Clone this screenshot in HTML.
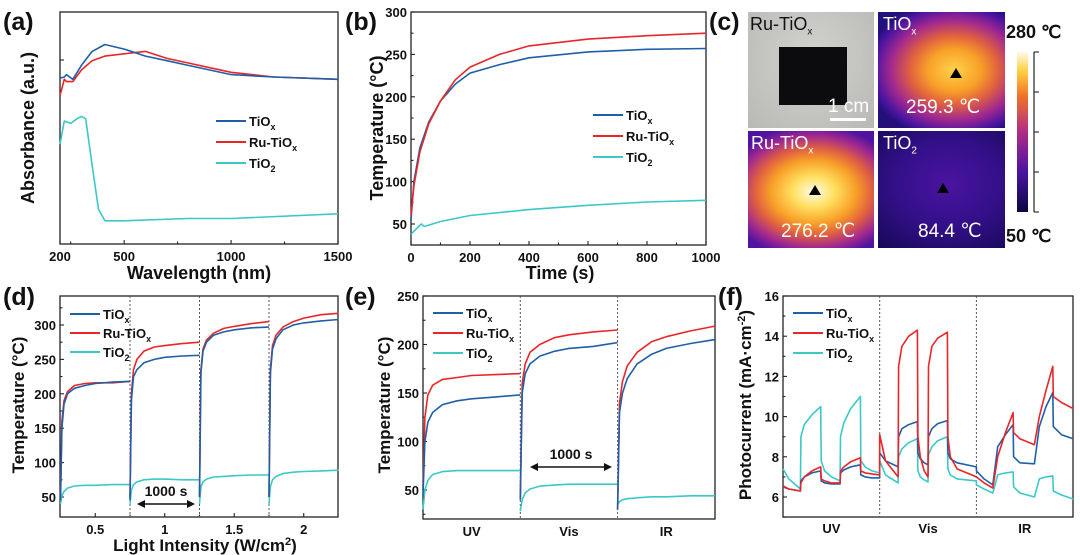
<!DOCTYPE html>
<html><head><meta charset="utf-8">
<style>
body{margin:0;background:#fff;width:1080px;height:555px;overflow:hidden;font-family:"Liberation Sans",Arial,sans-serif}
svg{position:absolute;left:0;top:0}
text{font-family:"Liberation Sans",Arial,sans-serif;font-weight:bold;fill:#111}
.cell{position:absolute;overflow:hidden}
.cl{position:absolute;color:#fff;font-size:18px;font-family:"Liberation Sans",sans-serif}
</style></head>
<body>
<div class="cell" style="left:748px;top:12px;width:126px;height:116px;background:radial-gradient(ellipse at 50% 40%,#d2d2ce,#b8b8b4)">
 <div style="position:absolute;left:31px;top:35px;width:68px;height:58px;background:#0c0c0e"></div>
 <div class="cl" style="left:2px;top:2px;color:#111">Ru-TiO<sub style="font-size:10px">x</sub></div>
 <div class="cl" style="left:80px;top:84px;font-size:19px">1 cm</div>
 <div style="position:absolute;left:82px;top:106px;width:36px;height:3px;background:#fff"></div>
</div>
<div class="cell" style="left:878px;top:12px;width:127px;height:116px;background:radial-gradient(ellipse 70% 60% at 60% 50%,#ffd24a 0%,#f8a028 30%,#e06040 50%,#a02890 72%,#4a14a0 90%,#24107a 100%)">
 <div class="cl" style="left:5px;top:2px">TiO<sub style="font-size:10px">x</sub></div>
 <div class="cl" style="left:28px;top:84px;font-size:19px">259.3 ℃</div>
 <div style="position:absolute;left:72px;top:56px;width:0;height:0;border-left:6px solid transparent;border-right:6px solid transparent;border-bottom:10px solid #000"></div>
</div>
<div class="cell" style="left:748px;top:131px;width:126px;height:117px;background:radial-gradient(ellipse 75% 60% at 52% 52%,#fffbe8 0%,#ffe060 22%,#f8a028 45%,#e06040 62%,#a02890 80%,#5014a0 95%)">
 <div class="cl" style="left:3px;top:2px">Ru-TiO<sub style="font-size:10px">x</sub></div>
 <div class="cl" style="left:33px;top:89px;font-size:19px">276.2 ℃</div>
 <div style="position:absolute;left:61px;top:54px;width:0;height:0;border-left:6px solid transparent;border-right:6px solid transparent;border-bottom:10px solid #000"></div>
</div>
<div class="cell" style="left:878px;top:131px;width:127px;height:117px;background:radial-gradient(ellipse 80% 70% at 55% 45%,#4a14a0 0%,#34108a 50%,#180a5a 100%)">
 <div class="cl" style="left:5px;top:2px">TiO<sub style="font-size:10px">2</sub></div>
 <div class="cl" style="left:40px;top:89px;font-size:19px">84.4 ℃</div>
 <div style="position:absolute;left:59px;top:52px;width:0;height:0;border-left:6px solid transparent;border-right:6px solid transparent;border-bottom:10px solid #000"></div>
</div>
<div style="position:absolute;left:1017px;top:52px;width:11px;height:160px;background:linear-gradient(to top,#0a0840,#4a14a0 25%,#b02c88 50%,#f07028 72%,#ffd040 88%,#fffbe8)"></div>

<svg id="fig" width="1080" height="555" xmlns="http://www.w3.org/2000/svg"></svg>

<script>
// ---------- DATA ----------
const aWl = [200,220,230,260,300,350,410,500,600,700,800,900,1000,1200,1500];
const aTiOx = [0.715,0.72,0.73,0.71,0.77,0.83,0.86,0.84,0.81,0.79,0.77,0.75,0.73,0.72,0.71];
const aRu = [0.64,0.71,0.70,0.70,0.75,0.79,0.81,0.82,0.83,0.80,0.78,0.76,0.74,0.72,0.71];
const aWl2 = [200,220,250,280,300,320,350,380,410,500,800,1000,1500];
const aTiO2 = [0.43,0.53,0.52,0.54,0.55,0.54,0.34,0.15,0.10,0.10,0.11,0.11,0.13];

const bTime = [0,10,30,60,100,150,200,300,400,600,800,1000];
const bTiOx = [55,100,140,170,195,215,228,238,246,253,256,257];
const bRu = [60,95,135,168,195,220,235,250,260,268,272,275];
const bTime2 = [0,20,35,45,100,200,400,600,800,1000];
const bTiO2 = [38,45,50,47,53,60,67,72,76,78];

const segFrac = [0,0.02,0.05,0.1,0.2,0.35,0.5,0.75,1.0];
const dTiOx = [[45,150,185,200,208,212,215,217,218],[45,190,225,235,245,250,253,255,256],[50,230,262,275,285,290,293,296,297],[50,230,265,280,293,300,303,306,308]];
const dRu = [[50,160,190,203,212,215,216,216,218],[50,200,235,250,262,268,270,273,275],[50,235,265,278,288,295,298,302,305],[50,235,270,285,297,305,310,315,317]];
const dTiO2 = [[40,52,58,63,66,67,67,68,68],[40,60,68,72,75,76,76,75,75],[40,65,72,76,79,80,81,82,82],[40,65,75,80,84,86,87,88,89]];

const eTiOx = [[45,100,120,130,138,142,144,146,148],[40,150,170,180,188,193,196,198,202],[30,130,150,165,180,190,196,201,205]];
const eRu = [[50,125,148,158,164,166,168,169,170],[40,160,180,192,200,207,210,213,215],[30,140,162,178,192,203,208,214,219]];
const eTiO2 = [[30,50,60,66,69,70,70,70,70],[28,40,47,51,54,55,56,56,56],[35,38,40,41,42,43,43,44,44]];

const fT = [0,0.06,0.18,0.185,0.22,0.3,0.39,0.395,0.43,0.5,0.59,0.595,0.63,0.7,0.8,0.805,0.85,0.92,1.0,
  1.0,1.06,1.19,1.195,1.23,1.3,1.39,1.395,1.42,1.46,1.5,1.505,1.54,1.6,1.7,1.705,1.73,1.8,2.0,
  2.0,2.08,2.17,2.22,2.3,2.38,2.385,2.45,2.6,2.65,2.72,2.79,2.795,2.88,3.0];
const fTiO2 = [7.4,6.9,6.4,9.0,9.6,10.1,10.5,7.8,7.3,7.0,6.8,9.0,9.7,10.4,11.0,7.8,7.5,7.3,7.2,
  7.8,7.1,6.7,8.0,8.4,8.7,8.9,7.3,7.0,6.85,6.75,8.1,8.5,8.8,9.0,7.4,7.1,6.9,6.8,
  6.6,6.4,6.2,7.1,7.2,7.25,6.5,6.2,6.0,6.9,7.0,7.05,6.3,6.1,5.9];
const fTiOx = [6.5,6.4,6.3,6.8,7.0,7.2,7.3,6.8,6.7,6.65,6.65,7.2,7.35,7.5,7.6,7.1,7.0,6.95,6.95,
  8.2,7.8,7.5,9.0,9.4,9.6,9.75,8.2,7.9,7.7,7.6,9.0,9.4,9.65,9.8,8.2,7.9,7.7,7.5,
  7.3,6.9,6.6,8.5,9.1,9.6,8.0,7.7,7.65,9.5,10.5,11.2,9.5,9.1,8.9];
const fRu = [6.55,6.4,6.3,6.7,7.0,7.3,7.5,6.9,6.8,6.7,6.7,7.3,7.5,7.75,7.95,7.3,7.2,7.15,7.1,
  9.1,7.8,7.0,12.5,13.5,14.0,14.3,9.0,8.0,7.3,7.0,12.5,13.5,13.9,14.2,9.0,8.0,7.4,7.0,
  7.0,6.7,6.45,8.0,9.2,10.2,9.2,8.9,8.6,10.0,11.3,12.5,11.0,10.7,10.4];

// ---------- DRAW ----------
const NS='http://www.w3.org/2000/svg';
const svg=document.getElementById('fig');
const BLUE='#1f5fa8', RED='#e8262a', CYAN='#3cc8c8';
function mk(tag,attrs,parent){const e=document.createElementNS(NS,tag);for(const k in attrs)e.setAttribute(k,attrs[k]);(parent||svg).appendChild(e);return e;}
function txt(x,y,s,size,anchor,name,rot){
  const e=mk('text',{x:x,y:y,'font-size':size,'text-anchor':anchor||'middle'});
  if(rot)e.setAttribute('transform','rotate(-90 '+x+' '+y+')');
  e.innerHTML=s;
  
  
  return e;
}
function path(xs,ys,sx,sy,color,name,w){
  let d='';for(let i=0;i<xs.length;i++)d+=(i?'L':'M')+sx(xs[i]).toFixed(1)+','+sy(ys[i]).toFixed(1);
  const p=mk('path',{d:d,fill:'none',stroke:color,'stroke-width':w||1.6,'stroke-linejoin':'round'});
  
  
  return p;
}
function box(x0,y0,x1,y1,name){
  const r=mk('rect',{x:x0,y:y0,width:x1-x0,height:y1-y0,fill:'none',stroke:'#222','stroke-width':1.3});
  
  
}
function tick(x1,y1,x2,y2){const t=mk('line',{x1:x1,y1:y1,x2:x2,y2:y2,stroke:'#222','stroke-width':1.1});
  
  }
function yTicks(vals,sy,x0,labels,minors){
  vals.forEach((v,i)=>{tick(x0,sy(v),x0+4,sy(v));if(labels)txt(x0-4,sy(v)+5,labels[i],13,'end','y-tick-label');});
  (minors||[]).forEach(v=>tick(x0,sy(v),x0+2.5,sy(v)));
}
function xTicks(vals,sx,y0,labels,minors){
  vals.forEach((v,i)=>{tick(sx(v),y0,sx(v),y0-4);if(labels)txt(sx(v),y0+17,labels[i],13,'middle','x-tick-label');});
  (minors||[]).forEach(v=>tick(sx(v),y0,sx(v),y0-2.5));
}
function legend(x,y,dy,fs,name){
  const items=[['TiO<tspan font-size="9" dy="4">x</tspan>',BLUE],['Ru-TiO<tspan font-size="9" dy="4">x</tspan>',RED],['TiO<tspan font-size="9" dy="4">2</tspan>',CYAN]];
  items.forEach((it,i)=>{
    const l=mk('line',{x1:x,y1:y+i*dy,x2:x+30,y2:y+i*dy,stroke:it[1],'stroke-width':2});
    
    
    txt(x+33,y+i*dy+5,it[0],fs,'start',name);
  });
}
function vdash(x,y0,y1){const l=mk('line',{x1:x,y1:y0,x2:x,y2:y1,stroke:'#555','stroke-width':1,'stroke-dasharray':'2,2'});
  
  }
function arrow(x0,x1,y,label){
  const l=mk('line',{x1:x0+6,y1:y,x2:x1-6,y2:y,stroke:'#111','stroke-width':1.5});
  
  
  mk('path',{d:`M${x0},${y}l8,-4v8z M${x1},${y}l-8,-4v8z`,fill:'#111'});
  txt((x0+x1)/2,y-8,label,14,'middle','arrow-label');
}

// panel a
(function(){
  const sx=v=>60+(v-200)*(278/1300), sy=v=>244-v*232;
  box(60,12,338,244,'panel-a-frame');
  xTicks([200,500,1000,1500],sx,244,['200','500','1000','1500'],[250,750,1250]);
  tick(60,60,64,60);
  path(aWl2,aTiO2,sx,sy,CYAN,'line-a-tio2');
  path(aWl,aRu,sx,sy,RED,'line-a-ru-tiox');
  path(aWl,aTiOx,sx,sy,BLUE,'line-a-tiox');
  legend(216,121,21,13,'legend-a-entry');
  txt(34,128,'Absorbance (a.u.)',18,'middle','y-axis-title-a',true);
  txt(199,279,'Wavelength (nm)',18,'middle','x-axis-title-a');
  txt(3,30,'(a)',25,'start','panel-label-a');
})();
// panel b
(function(){
  const sx=v=>411+v*0.295, sy=v=>224-(v-50)*0.848;
  box(411,12,706,245,'panel-b-frame');
  yTicks([50,100,150,200,250,300],sy,411,['50','100','150','200','250','300'],[75,125,175,225,275]);
  xTicks([0,200,400,600,800,1000],sx,245,['0','200','400','600','800','1000'],[100,300,500,700,900]);
  path(bTime2,bTiO2,sx,sy,CYAN,'line-b-tio2');
  path(bTime,bTiOx,sx,sy,BLUE,'line-b-tiox');
  path(bTime,bRu,sx,sy,RED,'line-b-ru-tiox');
  legend(593,115,21,13,'legend-b-entry');
  txt(383,128,'Temperature (°C)',18,'middle','y-axis-title-b',true);
  txt(560,279,'Time (s)',18,'middle','x-axis-title-b');
  txt(345,30,'(b)',25,'start','panel-label-b');
})();
// panel c
txt(709,30,'(c)',25,'start','panel-label-c');
txt(1006,38,'280 ℃',18,'start','colorbar-max-label');
txt(1006,242,'50 ℃',18,'start','colorbar-min-label');
mk('line',{x1:1034,y1:52,x2:1034,y2:212,stroke:'#222','stroke-width':1.2});
[52,92,132,172,212].forEach(y=>tick(1034,y,1039,y));
// panel d
(function(){
  const sx=v=>60.5+(v-0.25)*139, sy=v=>497-(v-50)*0.688;
  box(60,296,338,517,'panel-d-frame');
  yTicks([50,100,150,200,250,300],sy,60,['50','100','150','200','250','300'],[75,125,175,225,275,325]);
  xTicks([0.5,1,1.5,2],sx,517,['0.5','1','1.5','2'],[0.75,1.25,1.75]);
  [0.75,1.25,1.75].forEach(v=>vdash(sx(v),296,517));
  for(let s=0;s<4;s++){
    const xs=segFrac.map(t=>0.25+0.5*s+0.5*t);
    path(xs,dTiO2[s],sx,sy,CYAN,'line-d-tio2');
    path(xs,dRu[s],sx,sy,RED,'line-d-ru-tiox');
    path(xs,dTiOx[s],sx,sy,BLUE,'line-d-tiox');
  }
  legend(70,314,19,13,'legend-d-entry');
  arrow(137,195,504,'1000 s');
  txt(24,405,'Temperature (°C)',17,'middle','y-axis-title-d',true);
  txt(205,551,'Light Intensity (W/cm<tspan font-size="11" dy="-6">2</tspan><tspan dy="6">)</tspan>',17,'middle','x-axis-title-d');
  txt(3,305,'(d)',25,'start','panel-label-d');
})();
// panel e
(function(){
  const sx=t=>423+t*97.3, sy=v=>490-(v-50)*0.97;
  box(423,296,715,519,'panel-e-frame');
  yTicks([50,100,150,200,250],sy,423,['50','100','150','200','250'],[25,75,125,175,225]);
  [1,2].forEach(v=>vdash(sx(v),296,519));
  ['UV','Vis','IR'].forEach((l,i)=>txt(sx(i+0.5),536,l,13,'middle','x-category-label-e'));
  for(let s=0;s<3;s++){
    const xs=segFrac.map(t=>s+t);
    path(xs,eTiO2[s],sx,sy,CYAN,'line-e-tio2');
    path(xs,eRu[s],sx,sy,RED,'line-e-ru-tiox');
    path(xs,eTiOx[s],sx,sy,BLUE,'line-e-tiox');
  }
  legend(433,313,20,13,'legend-e-entry');
  arrow(530,612,467,'1000 s');
  txt(390,405,'Temperature (°C)',17,'middle','y-axis-title-e',true);
  txt(345,305,'(e)',25,'start','panel-label-e');
})();
// panel f
(function(){
  const sx=t=>783+t*96.7, sy=v=>497-(v-6)*20.1;
  box(783,296,1073,517,'panel-f-frame');
  yTicks([6,8,10,12,14,16],sy,783,['6','8','10','12','14','16'],[5,7,9,11,13,15]);
  [1,2].forEach(v=>vdash(sx(v),296,517));
  ['UV','Vis','IR'].forEach((l,i)=>txt(sx(i+0.5),533,l,13,'middle','x-category-label-f'));
  path(fT,fTiO2,sx,sy,CYAN,'line-f-tio2');
  path(fT,fTiOx,sx,sy,BLUE,'line-f-tiox');
  path(fT,fRu,sx,sy,RED,'line-f-ru-tiox');
  legend(793,313,20,13,'legend-f-entry');
  txt(751,405,'Photocurrent (mA·cm<tspan font-size="11" dy="-6">-2</tspan><tspan dy="6">)</tspan>',17,'middle','y-axis-title-f',true);
  txt(718,305,'(f)',25,'start','panel-label-f');
})();
</script>
</body></html>
